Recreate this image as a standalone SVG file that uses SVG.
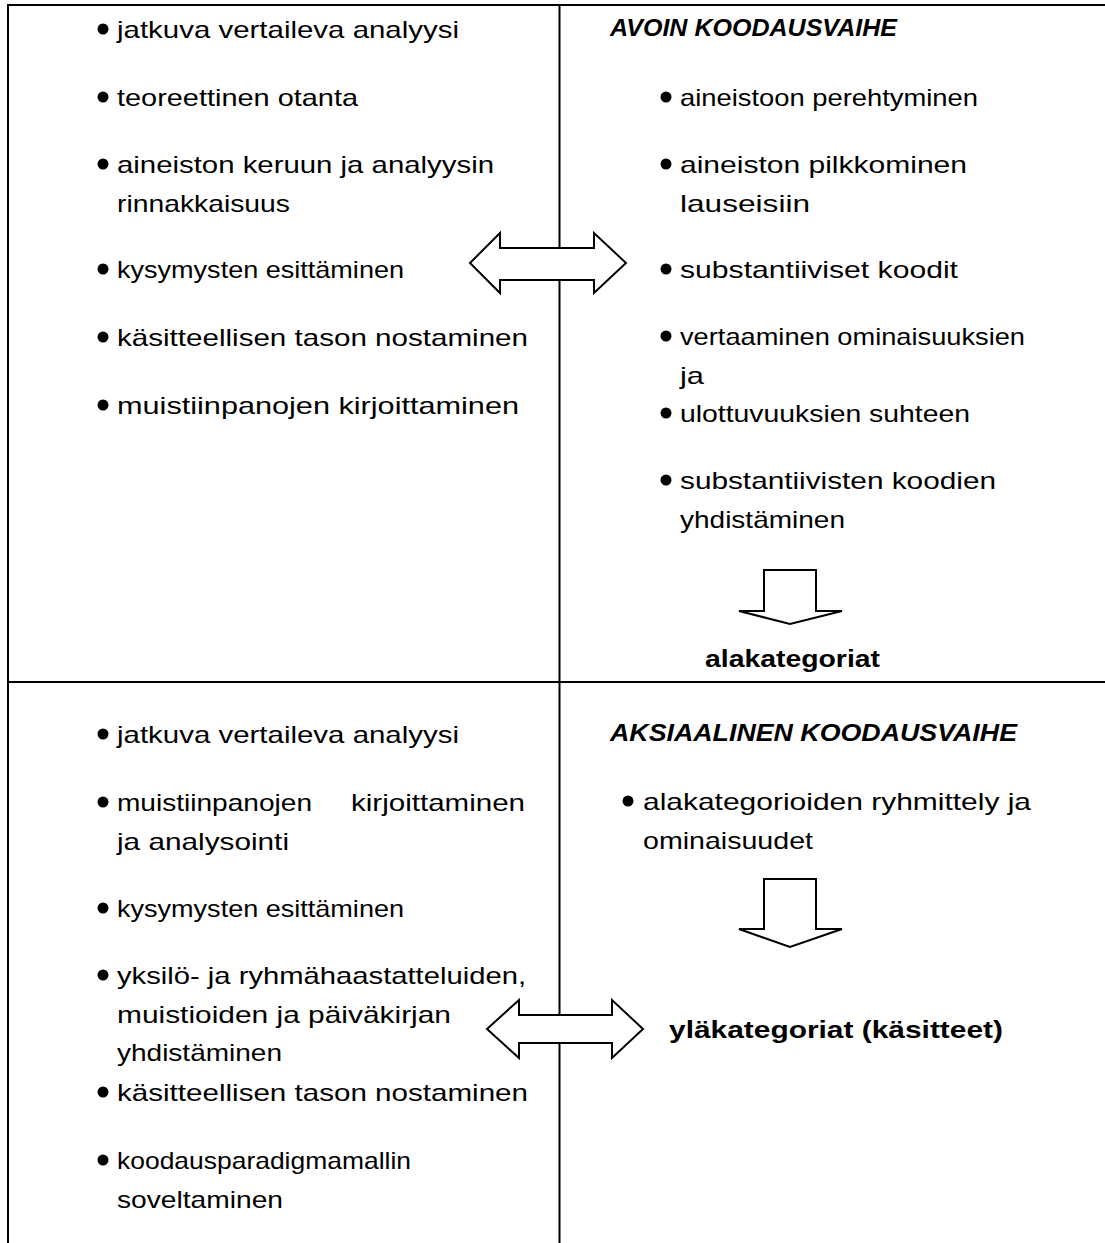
<svg xmlns="http://www.w3.org/2000/svg" width="1105" height="1243" viewBox="0 0 1105 1243">
<style>
.t{font-family:"Liberation Sans",Arial,sans-serif;font-size:24px;fill:#000}
.b{font-weight:bold}
.bi{font-weight:bold;font-style:italic}
.line{stroke:#000;stroke-width:2;fill:none}
.arr{stroke:#000;stroke-width:2;fill:#fff;stroke-linejoin:miter}
.dot{fill:#000}
</style>
<rect width="1105" height="1243" fill="#fff"/>
<g id="table">
<line class="line" x1="8" y1="5" x2="1105" y2="5"/>
<line class="line" x1="8" y1="4" x2="8" y2="1243"/>
<line class="line" x1="559.5" y1="5" x2="559.5" y2="1243"/>
<line class="line" x1="8" y1="682" x2="1105" y2="682"/>
</g>
<g id="connectors">
<path class="arr" d="M470,263 L500,233 L500,248 L594,248 L594,233 L626,263 L594,293 L594,280 L500,280 L500,293 Z"/>
<path class="arr" d="M487,1029 L519,1000 L519,1015 L612,1015 L612,1000 L643,1029 L612,1058 L612,1043 L519,1043 L519,1058 Z"/>
<path class="arr" d="M764,570 L816,570 L816,611 L842,611 L790,624 L739,611 L764,611 Z"/>
<path class="arr" d="M764,879 L816,879 L816,929 L842,929 L790,947 L739,929 L764,929 Z"/>
</g>
<g id="node-r1-left">
<circle class="dot" cx="103" cy="29" r="5.5"/>
<text class="t" x="117" y="38" textLength="342" lengthAdjust="spacingAndGlyphs">jatkuva vertaileva analyysi</text>
<circle class="dot" cx="103" cy="97" r="5.5"/>
<text class="t" x="117" y="106" textLength="241" lengthAdjust="spacingAndGlyphs">teoreettinen otanta</text>
<circle class="dot" cx="103" cy="164" r="5.5"/>
<text class="t" x="117" y="173" textLength="377" lengthAdjust="spacingAndGlyphs">aineiston keruun ja analyysin</text>
<text class="t" x="117" y="212" textLength="173" lengthAdjust="spacingAndGlyphs">rinnakkaisuus</text>
<circle class="dot" cx="103" cy="269" r="5.5"/>
<text class="t" x="117" y="278" textLength="287" lengthAdjust="spacingAndGlyphs">kysymysten esittäminen</text>
<circle class="dot" cx="103" cy="337" r="5.5"/>
<text class="t" x="117" y="346" textLength="411" lengthAdjust="spacingAndGlyphs">käsitteellisen tason nostaminen</text>
<circle class="dot" cx="103" cy="405" r="5.5"/>
<text class="t" x="117" y="414" textLength="402" lengthAdjust="spacingAndGlyphs">muistiinpanojen kirjoittaminen</text>
</g>
<g id="node-r1-right">
<text class="t bi" x="610" y="36" textLength="287" lengthAdjust="spacingAndGlyphs">AVOIN KOODAUSVAIHE</text>
<circle class="dot" cx="666" cy="97" r="5.5"/>
<text class="t" x="680" y="106" textLength="298" lengthAdjust="spacingAndGlyphs">aineistoon perehtyminen</text>
<circle class="dot" cx="666" cy="164" r="5.5"/>
<text class="t" x="680" y="173" textLength="287" lengthAdjust="spacingAndGlyphs">aineiston pilkkominen</text>
<text class="t" x="680" y="212" textLength="130" lengthAdjust="spacingAndGlyphs">lauseisiin</text>
<circle class="dot" cx="666" cy="269" r="5.5"/>
<text class="t" x="680" y="278" textLength="278" lengthAdjust="spacingAndGlyphs">substantiiviset koodit</text>
<circle class="dot" cx="666" cy="336" r="5.5"/>
<text class="t" x="680" y="345" textLength="345" lengthAdjust="spacingAndGlyphs">vertaaminen ominaisuuksien</text>
<text class="t" x="680" y="384" textLength="24" lengthAdjust="spacingAndGlyphs">ja</text>
<circle class="dot" cx="666" cy="413" r="5.5"/>
<text class="t" x="680" y="422" textLength="290" lengthAdjust="spacingAndGlyphs">ulottuvuuksien suhteen</text>
<circle class="dot" cx="666" cy="480" r="5.5"/>
<text class="t" x="680" y="489" textLength="316" lengthAdjust="spacingAndGlyphs">substantiivisten koodien</text>
<text class="t" x="680" y="528" textLength="165" lengthAdjust="spacingAndGlyphs">yhdistäminen</text>
<text class="t b" x="705" y="667" textLength="175" lengthAdjust="spacingAndGlyphs">alakategoriat</text>
</g>
<g id="node-r2-left">
<circle class="dot" cx="103" cy="734" r="5.5"/>
<text class="t" x="117" y="743" textLength="342" lengthAdjust="spacingAndGlyphs">jatkuva vertaileva analyysi</text>
<circle class="dot" cx="103" cy="802" r="5.5"/>
<text class="t" x="117" y="811" textLength="195" lengthAdjust="spacingAndGlyphs">muistiinpanojen</text>
<text class="t" x="351" y="811" textLength="174" lengthAdjust="spacingAndGlyphs">kirjoittaminen</text>
<text class="t" x="117" y="850" textLength="172" lengthAdjust="spacingAndGlyphs">ja analysointi</text>
<circle class="dot" cx="103" cy="908" r="5.5"/>
<text class="t" x="117" y="917" textLength="287" lengthAdjust="spacingAndGlyphs">kysymysten esittäminen</text>
<circle class="dot" cx="103" cy="975" r="5.5"/>
<text class="t" x="117" y="984" textLength="409" lengthAdjust="spacingAndGlyphs">yksilö- ja ryhmähaastatteluiden,</text>
<text class="t" x="117" y="1023" textLength="334" lengthAdjust="spacingAndGlyphs">muistioiden ja päiväkirjan</text>
<text class="t" x="117" y="1061" textLength="165" lengthAdjust="spacingAndGlyphs">yhdistäminen</text>
<circle class="dot" cx="103" cy="1092" r="5.5"/>
<text class="t" x="117" y="1101" textLength="411" lengthAdjust="spacingAndGlyphs">käsitteellisen tason nostaminen</text>
<circle class="dot" cx="103" cy="1160" r="5.5"/>
<text class="t" x="117" y="1169" textLength="294" lengthAdjust="spacingAndGlyphs">koodausparadigmamallin</text>
<text class="t" x="117" y="1208" textLength="166" lengthAdjust="spacingAndGlyphs">soveltaminen</text>
</g>
<g id="node-r2-right">
<text class="t bi" x="610" y="741" textLength="407" lengthAdjust="spacingAndGlyphs">AKSIAALINEN KOODAUSVAIHE</text>
<circle class="dot" cx="628" cy="801" r="5.5"/>
<text class="t" x="643" y="810" textLength="388" lengthAdjust="spacingAndGlyphs">alakategorioiden ryhmittely ja</text>
<text class="t" x="643" y="849" textLength="170" lengthAdjust="spacingAndGlyphs">ominaisuudet</text>
<text class="t b" x="669" y="1038" textLength="334" lengthAdjust="spacingAndGlyphs">yläkategoriat (käsitteet)</text>
</g>
</svg>
